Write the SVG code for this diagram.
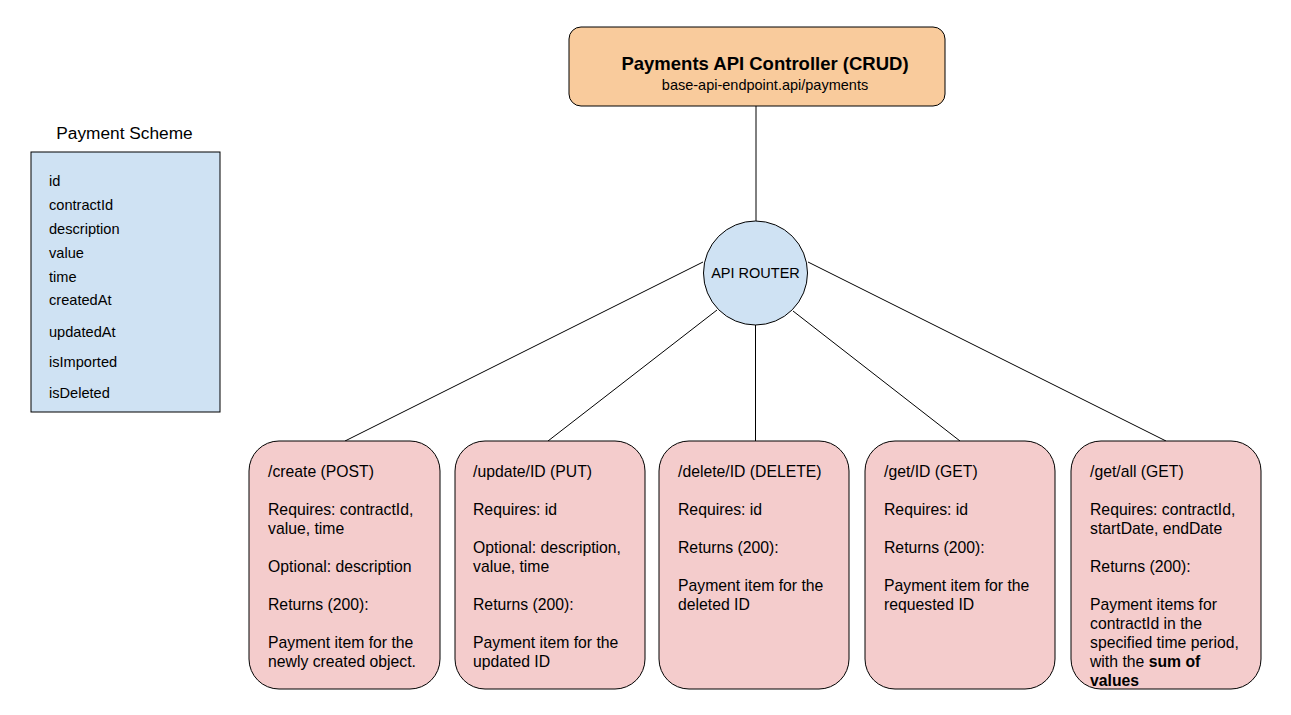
<svg xmlns="http://www.w3.org/2000/svg" width="1291" height="715" viewBox="0 0 1291 715">
<style>
text{font-family:"Liberation Sans",Arial,sans-serif;fill:#000}
.ep{fill:#f4cccc;stroke:#000;stroke-width:1}
.t{font-size:15.75px}
.s{font-size:14.6px}
.c{stroke:#000;stroke-width:1;fill:none}
</style>
<rect width="1291" height="715" fill="#fff"/>
<g id="connectors">
<line class="c" x1="756" y1="106" x2="756" y2="221"/>
<line class="c" x1="703" y1="262" x2="345" y2="441"/>
<line class="c" x1="717" y1="310" x2="548" y2="441"/>
<line class="c" x1="755.5" y1="325" x2="755.5" y2="441"/>
<line class="c" x1="793" y1="311" x2="960" y2="441"/>
<line class="c" x1="808" y1="262" x2="1166" y2="441"/>
</g>
<g id="controller">
<rect x="569" y="27" width="376" height="79" rx="12" fill="#f9cb9c" stroke="#000"/>
<text x="765" y="70" text-anchor="middle" font-size="18.5" font-weight="bold">Payments API Controller (CRUD)</text>
<text x="765" y="90" text-anchor="middle" font-size="14.5">base-api-endpoint.api/payments</text>
</g>
<g id="router">
<circle cx="755.5" cy="273" r="52" fill="#cfe2f3" stroke="#000"/>
<text x="755.5" y="278" text-anchor="middle" font-size="14.5">API ROUTER</text>
</g>
<g id="scheme">
<text x="124.5" y="139" text-anchor="middle" font-size="17.3">Payment Scheme</text>
<rect x="31" y="152" width="189" height="260" fill="#cfe2f3" stroke="#000"/>
<text class="s" x="49" y="186">id</text>
<text class="s" x="49" y="210">contractId</text>
<text class="s" x="49" y="234">description</text>
<text class="s" x="49" y="258">value</text>
<text class="s" x="49" y="282">time</text>
<text class="s" x="49" y="305">createdAt</text>
<text class="s" x="49" y="337">updatedAt</text>
<text class="s" x="49" y="367">isImported</text>
<text class="s" x="49" y="398">isDeleted</text>
</g>
<g id="create">
<rect class="ep" x="249" y="441" width="191" height="248" rx="30"/>
<text class="t" x="268" y="477">/create (POST)</text>
<text class="t" x="268" y="515">Requires: contractId,</text>
<text class="t" x="268" y="534">value, time</text>
<text class="t" x="268" y="572">Optional: description</text>
<text class="t" x="268" y="610">Returns (200):</text>
<text class="t" x="268" y="648">Payment item for the</text>
<text class="t" x="268" y="667">newly created object.</text>
</g>
<g id="update">
<rect class="ep" x="455" y="441" width="190" height="248" rx="30"/>
<text class="t" x="473" y="477">/update/ID (PUT)</text>
<text class="t" x="473" y="515">Requires: id</text>
<text class="t" x="473" y="553">Optional: description,</text>
<text class="t" x="473" y="572">value, time</text>
<text class="t" x="473" y="610">Returns (200):</text>
<text class="t" x="473" y="648">Payment item for the</text>
<text class="t" x="473" y="667">updated ID</text>
</g>
<g id="delete">
<rect class="ep" x="659" y="441" width="190" height="248" rx="30"/>
<text class="t" x="678" y="477">/delete/ID (DELETE)</text>
<text class="t" x="678" y="515">Requires: id</text>
<text class="t" x="678" y="553">Returns (200):</text>
<text class="t" x="678" y="591">Payment item for the</text>
<text class="t" x="678" y="610">deleted ID</text>
</g>
<g id="get">
<rect class="ep" x="865" y="441" width="190" height="248" rx="30"/>
<text class="t" x="884" y="477">/get/ID (GET)</text>
<text class="t" x="884" y="515">Requires: id</text>
<text class="t" x="884" y="553">Returns (200):</text>
<text class="t" x="884" y="591">Payment item for the</text>
<text class="t" x="884" y="610">requested ID</text>
</g>
<g id="getall">
<rect class="ep" x="1071" y="441" width="190" height="248" rx="30"/>
<text class="t" x="1090" y="477">/get/all (GET)</text>
<text class="t" x="1090" y="515">Requires: contractId,</text>
<text class="t" x="1090" y="534">startDate, endDate</text>
<text class="t" x="1090" y="572">Returns (200):</text>
<text class="t" x="1090" y="610">Payment items for</text>
<text class="t" x="1090" y="629">contractId in the</text>
<text class="t" x="1090" y="648">specified time period,</text>
<text class="t" x="1090" y="667">with the <tspan font-weight="bold">sum of</tspan></text>
<text class="t" x="1090" y="686" font-weight="bold">values</text>
</g>
</svg>
